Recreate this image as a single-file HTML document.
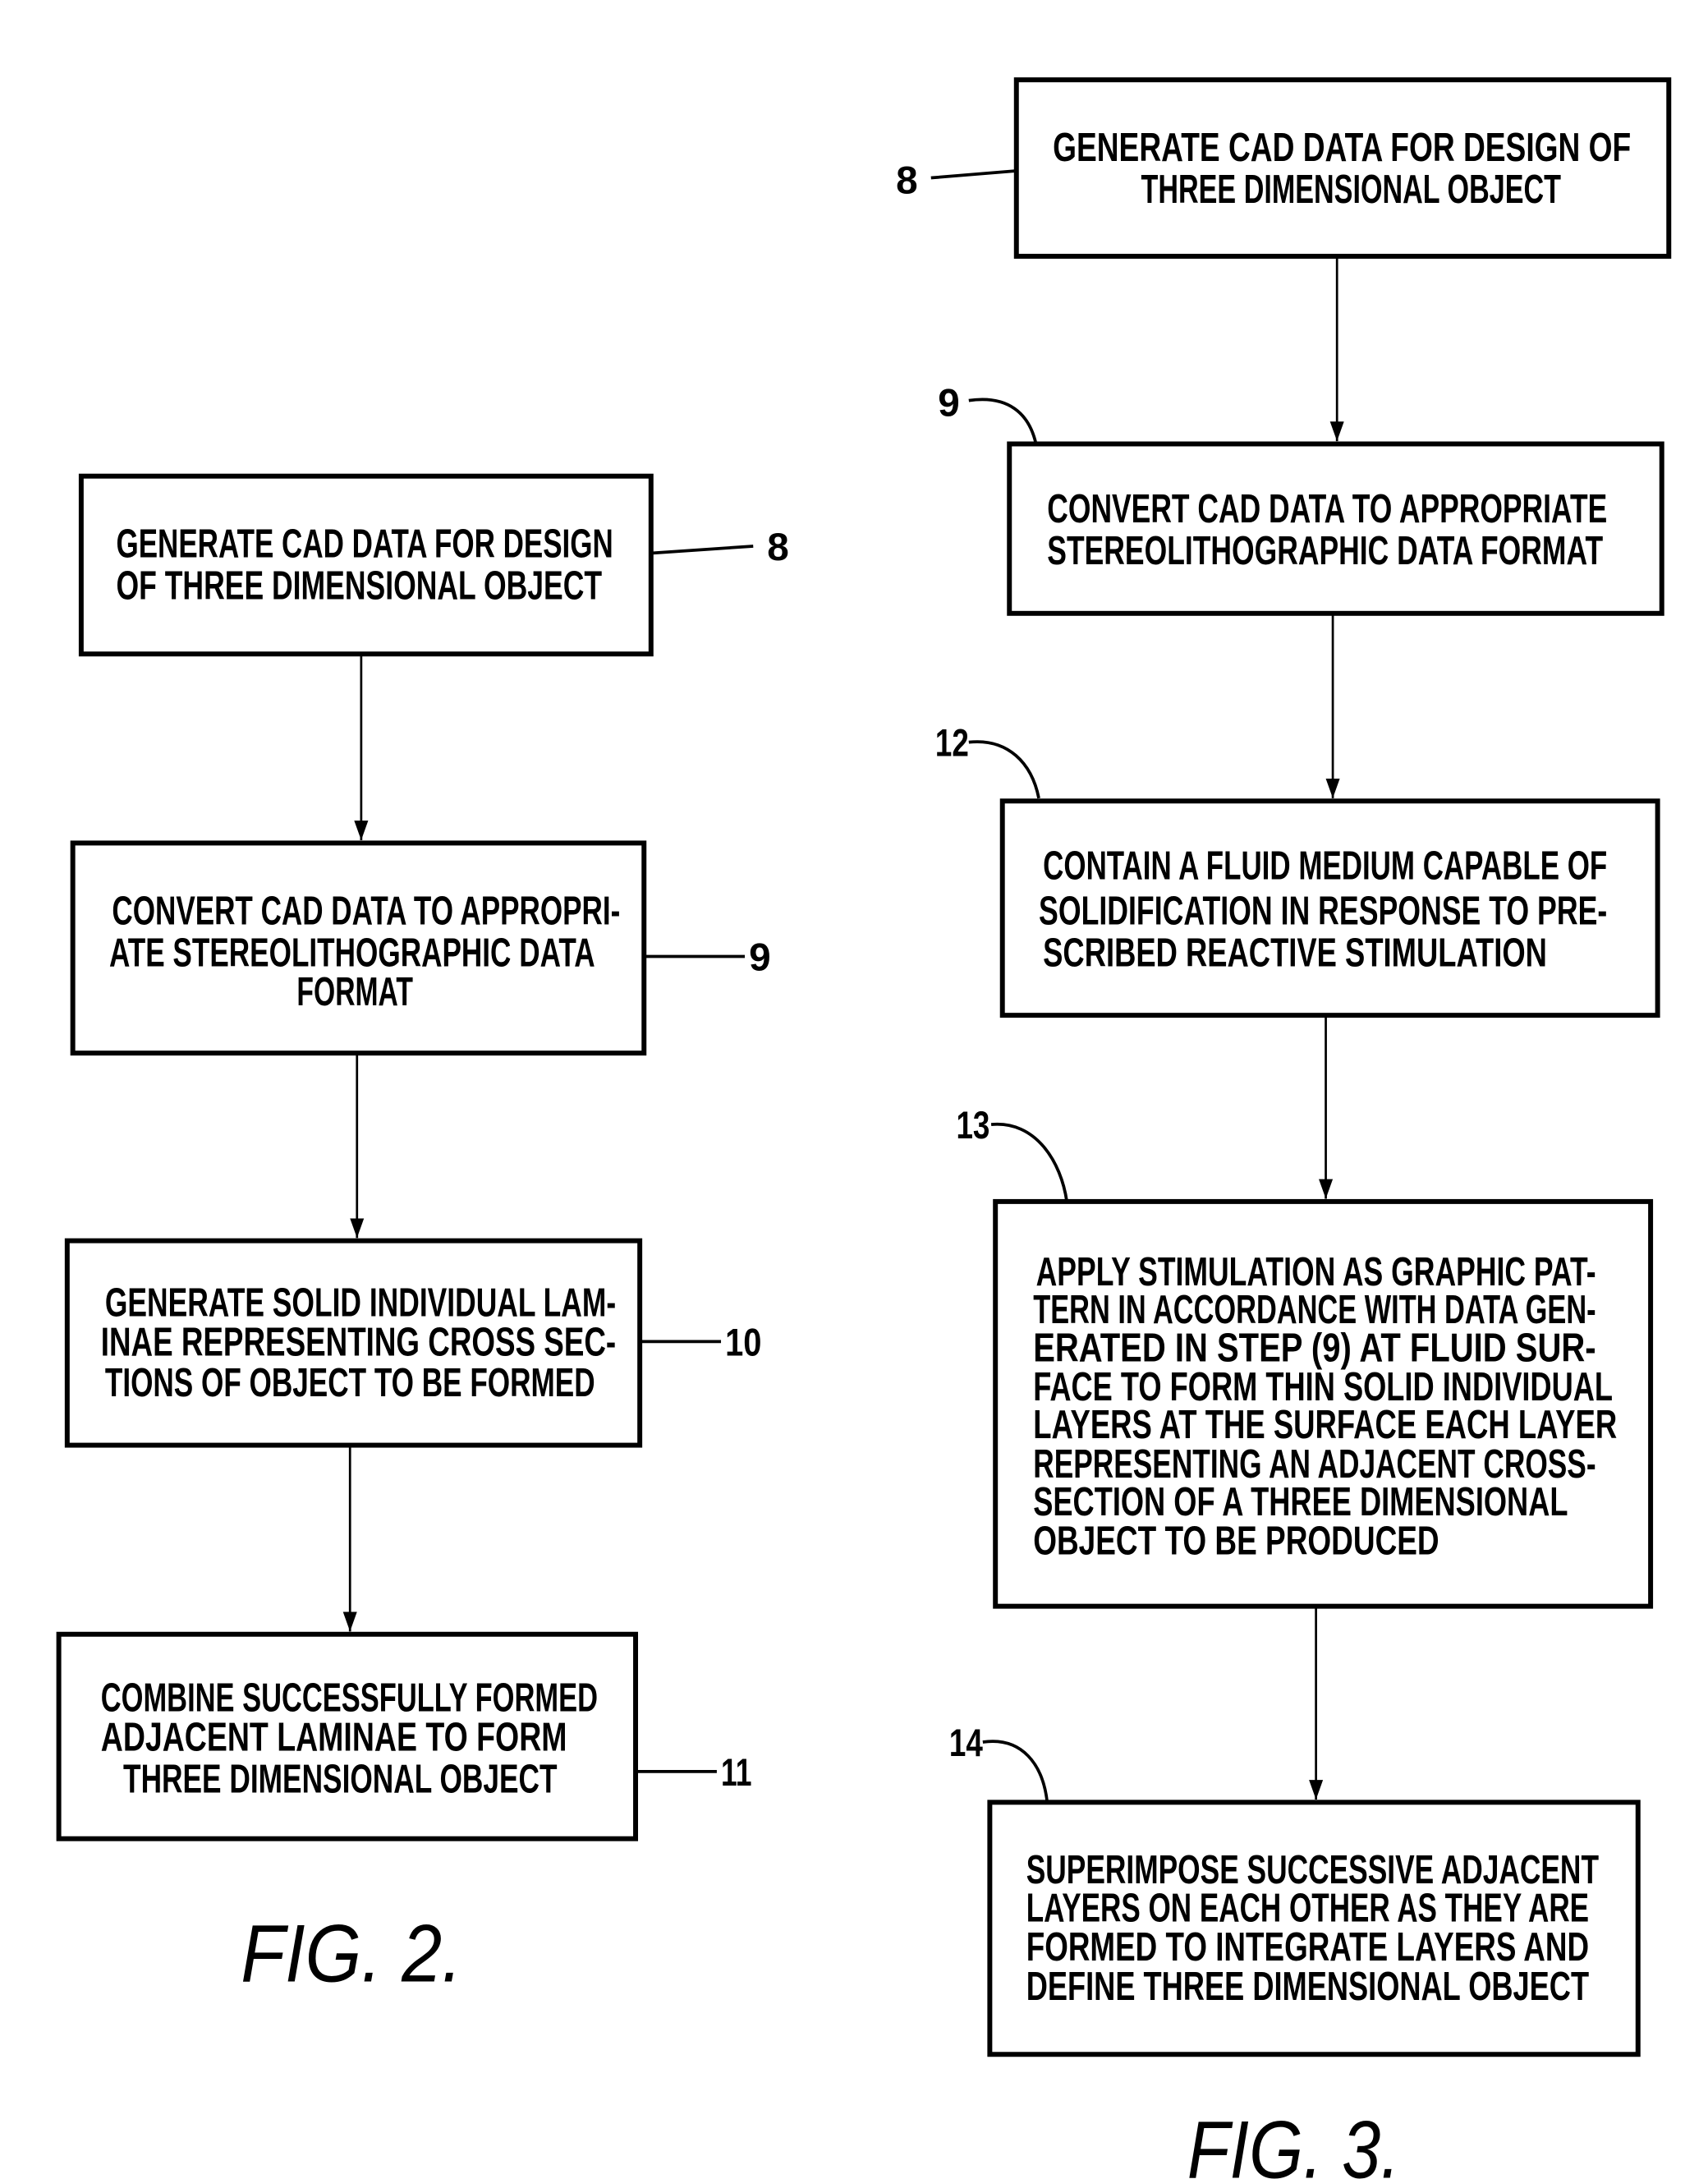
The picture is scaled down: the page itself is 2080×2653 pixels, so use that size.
<!DOCTYPE html>
<html><head><meta charset="utf-8"><style>
html,body{margin:0;padding:0;background:#fff}
svg{display:block}
text{font-family:"Liberation Sans",sans-serif;font-weight:bold;fill:#000}
</style></head><body>
<svg width="2080" height="2653" viewBox="0 0 1220 1556" preserveAspectRatio="none" xmlns="http://www.w3.org/2000/svg">
<defs><marker id="a" markerWidth="14" markerHeight="10" refX="14" refY="5" orient="auto" markerUnits="userSpaceOnUse"><path d="M0,0 L14,5 L0,10 Z" fill="#000"/></marker></defs>
<g fill="none" stroke="#000" stroke-width="3.5">
<rect x="58" y="340" width="407" height="127"/>
<rect x="52" y="602" width="408" height="150"/>
<rect x="48" y="886" width="409" height="146"/>
<rect x="42" y="1167" width="412" height="146"/>
<rect x="726" y="57" width="466" height="126"/>
<rect x="721" y="317" width="466" height="121"/>
<rect x="716" y="572" width="468" height="153"/>
<rect x="711" y="858" width="468" height="289"/>
<rect x="707" y="1287" width="463" height="180"/>
</g>
<g stroke="#000" stroke-width="1.6" fill="none" marker-end="url(#a)">
<line x1="258" y1="467" x2="258" y2="600"/>
<line x1="255" y1="752" x2="255" y2="884"/>
<line x1="250" y1="1032" x2="250" y2="1165"/>
<line x1="955" y1="183" x2="955" y2="315"/>
<line x1="952" y1="438" x2="952" y2="570"/>
<line x1="947" y1="725" x2="947" y2="856"/>
<line x1="940" y1="1147" x2="940" y2="1285"/>
</g>
<g stroke="#000" stroke-width="2.2" fill="none">
<line x1="465" y1="395" x2="538" y2="390"/>
<line x1="460" y1="683" x2="532" y2="683"/>
<line x1="457" y1="958" x2="515" y2="958"/>
<line x1="454" y1="1265" x2="512" y2="1265"/>
<line x1="665" y1="127" x2="726" y2="122"/>
<path d="M692,286 C720,282 735,295 740,317"/>
<path d="M692,530 C720,527 737,545 742,570"/>
<path d="M708,803 C740,800 758,830 762,858"/>
<path d="M702,1244 C730,1240 745,1260 748,1287"/>
</g>
<g font-size="28">
<text x="548" y="400">8</text>
<text x="535" y="693">9</text>
<text x="518" y="968" textLength="26" lengthAdjust="spacingAndGlyphs">10</text>
<text x="515" y="1275" textLength="22" lengthAdjust="spacingAndGlyphs">11</text>
<text x="640" y="138">8</text>
<text x="670" y="297">9</text>
<text x="668" y="540" textLength="24" lengthAdjust="spacingAndGlyphs">12</text>
<text x="683" y="813" textLength="24" lengthAdjust="spacingAndGlyphs">13</text>
<text x="678" y="1254" textLength="24" lengthAdjust="spacingAndGlyphs">14</text>
</g>
<g font-size="29">
<text x="83" y="398" textLength="355" lengthAdjust="spacingAndGlyphs">GENERATE CAD DATA FOR DESIGN</text>
<text x="83" y="428" textLength="347" lengthAdjust="spacingAndGlyphs">OF THREE DIMENSIONAL OBJECT</text>
<text x="80" y="660" textLength="363" lengthAdjust="spacingAndGlyphs">CONVERT CAD DATA TO APPROPRI-</text>
<text x="78" y="690" textLength="347" lengthAdjust="spacingAndGlyphs">ATE STEREOLITHOGRAPHIC DATA</text>
<text x="212" y="718" textLength="83" lengthAdjust="spacingAndGlyphs">FORMAT</text>
<text x="75" y="940" textLength="365" lengthAdjust="spacingAndGlyphs">GENERATE SOLID INDIVIDUAL LAM-</text>
<text x="72" y="968" textLength="368" lengthAdjust="spacingAndGlyphs">INAE REPRESENTING CROSS SEC-</text>
<text x="75" y="997" textLength="350" lengthAdjust="spacingAndGlyphs">TIONS OF OBJECT TO BE FORMED</text>
<text x="72" y="1222" textLength="355" lengthAdjust="spacingAndGlyphs">COMBINE SUCCESSFULLY FORMED</text>
<text x="72" y="1250" textLength="333" lengthAdjust="spacingAndGlyphs">ADJACENT LAMINAE TO FORM</text>
<text x="88" y="1280" textLength="310" lengthAdjust="spacingAndGlyphs">THREE DIMENSIONAL OBJECT</text>
<text x="752" y="115" textLength="413" lengthAdjust="spacingAndGlyphs">GENERATE CAD DATA FOR DESIGN OF</text>
<text x="815" y="145" textLength="300" lengthAdjust="spacingAndGlyphs">THREE DIMENSIONAL OBJECT</text>
<text x="748" y="373" textLength="400" lengthAdjust="spacingAndGlyphs">CONVERT CAD DATA TO APPROPRIATE</text>
<text x="748" y="403" textLength="397" lengthAdjust="spacingAndGlyphs">STEREOLITHOGRAPHIC DATA FORMAT</text>
<text x="745" y="628" textLength="403" lengthAdjust="spacingAndGlyphs">CONTAIN A FLUID MEDIUM CAPABLE OF</text>
<text x="742" y="660" textLength="406" lengthAdjust="spacingAndGlyphs">SOLIDIFICATION IN RESPONSE TO PRE-</text>
<text x="745" y="690" textLength="360" lengthAdjust="spacingAndGlyphs">SCRIBED REACTIVE STIMULATION</text>
<text x="740" y="918" textLength="400" lengthAdjust="spacingAndGlyphs">APPLY STIMULATION AS GRAPHIC PAT-</text>
<text x="738" y="945" textLength="402" lengthAdjust="spacingAndGlyphs">TERN IN ACCORDANCE WITH DATA GEN-</text>
<text x="738" y="972" textLength="402" lengthAdjust="spacingAndGlyphs">ERATED IN STEP (9) AT FLUID SUR-</text>
<text x="738" y="1000" textLength="414" lengthAdjust="spacingAndGlyphs">FACE TO FORM THIN SOLID INDIVIDUAL</text>
<text x="738" y="1027" textLength="417" lengthAdjust="spacingAndGlyphs">LAYERS AT THE SURFACE EACH LAYER</text>
<text x="738" y="1055" textLength="402" lengthAdjust="spacingAndGlyphs">REPRESENTING AN ADJACENT CROSS-</text>
<text x="738" y="1082" textLength="382" lengthAdjust="spacingAndGlyphs">SECTION OF A THREE DIMENSIONAL</text>
<text x="738" y="1110" textLength="290" lengthAdjust="spacingAndGlyphs">OBJECT TO BE PRODUCED</text>
<text x="733" y="1345" textLength="409" lengthAdjust="spacingAndGlyphs">SUPERIMPOSE SUCCESSIVE ADJACENT</text>
<text x="733" y="1372" textLength="402" lengthAdjust="spacingAndGlyphs">LAYERS ON EACH OTHER AS THEY ARE</text>
<text x="733" y="1400" textLength="402" lengthAdjust="spacingAndGlyphs">FORMED TO INTEGRATE LAYERS AND</text>
<text x="733" y="1428" textLength="402" lengthAdjust="spacingAndGlyphs">DEFINE THREE DIMENSIONAL OBJECT</text>
</g>
<text x="172" y="1415" font-size="58" style="font-style:italic;font-weight:normal" textLength="158" lengthAdjust="spacingAndGlyphs">FIG. 2.</text>
<text x="848" y="1555" font-size="58" style="font-style:italic;font-weight:normal" textLength="152" lengthAdjust="spacingAndGlyphs">FIG. 3.</text>
</svg>
</body></html>
